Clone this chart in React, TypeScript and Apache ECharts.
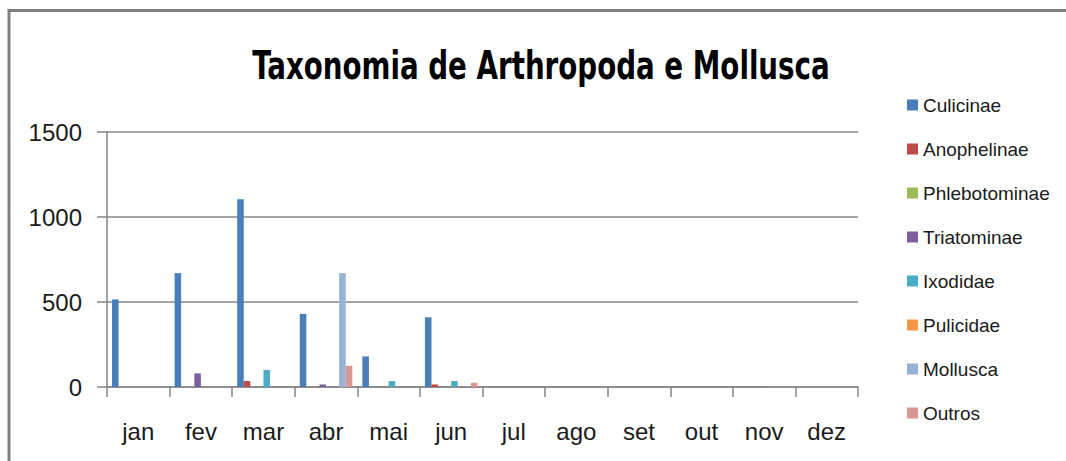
import React, { useEffect, useRef } from "react";
import * as echarts from "echarts";

const categories = ["jan", "fev", "mar", "abr", "mai", "jun", "jul", "ago", "set", "out", "nov", "dez"];
const seriesNames = ["Culicinae", "Anophelinae", "Phlebotominae", "Triatominae", "Ixodidae", "Pulicidae", "Mollusca", "Outros"];
const culicinae = [515, 670, 1105, 430, 180, 410, 0, 0, 0, 0, 0, 0];
const anophelinae = [0, 0, 35, 0, 0, 15, 0, 0, 0, 0, 0, 0];
const phlebotominae = [0, 0, 0, 0, 0, 0, 0, 0, 0, 0, 0, 0];
const triatominae = [0, 80, 0, 15, 0, 0, 0, 0, 0, 0, 0, 0];
const ixodidae = [0, 0, 100, 0, 35, 35, 0, 0, 0, 0, 0, 0];
const pulicidae = [0, 0, 0, 0, 0, 0, 0, 0, 0, 0, 0, 0];
const mollusca = [0, 0, 0, 670, 0, 0, 0, 0, 0, 0, 0, 0];
const outros = [0, 0, 0, 125, 0, 25, 0, 0, 0, 0, 0, 0];
const colors = ["#4A7EBB", "#BE4B48", "#9BBB59", "#7D5FA0", "#4AACC5", "#F79646", "#95B3D7", "#D99694"];
const yTicks = [0, 500, 1000, 1500];

const allData = [culicinae, anophelinae, phlebotominae, triatominae, ixodidae, pulicidae, mollusca, outros];

export default function App() {
  const ref = useRef<HTMLDivElement>(null);
  useEffect(() => {
    if (!ref.current) return;
    const chart = echarts.init(ref.current, null, { renderer: "svg" });
    const axisFont = "'Liberation Sans', Arial, sans-serif";
    chart.setOption({
      animation: false,
      backgroundColor: "#ffffff",
      color: colors,
      graphic: [
        {
          type: "rect",
          shape: { x: 9, y: 10.5, width: 1100, height: 500 },
          style: { fill: "none", stroke: "#808080", lineWidth: 3 },
          silent: true,
        },
        {
          type: "text",
          x: 541,
          y: 65,
          scaleX: 0.79,
          style: {
            text: "Taxonomia de Arthropoda e Mollusca",
            fontFamily: "'DejaVu Sans Condensed', 'DejaVu Sans', Arial, sans-serif",
            fontWeight: "bold",
            fontSize: 39,
            fill: "#000000",
            align: "center",
            verticalAlign: "middle",
          },
        },
      ],
      legend: {
        orient: "vertical",
        left: 902,
        top: 90,
        itemWidth: 11,
        itemHeight: 11,
        itemGap: 24,
        icon: "rect",
        data: seriesNames,
        textStyle: { fontFamily: axisFont, fontSize: 19, color: "#1a1a1a", lineHeight: 20 },
      },
      grid: { left: 107, right: 208, top: 132, bottom: 74 },
      xAxis: {
        type: "category",
        data: categories,
        boundaryGap: true,
        axisLine: { lineStyle: { color: "#868686", width: 1.5 } },
        axisTick: { show: true, alignWithLabel: false, interval: 0, length: 10, lineStyle: { color: "#868686", width: 1.5 } },
        axisLabel: { fontFamily: axisFont, fontSize: 24, color: "#1a1a1a", margin: 32 },
      },
      yAxis: {
        type: "value",
        min: yTicks[0],
        max: yTicks[yTicks.length - 1],
        interval: 500,
        axisLine: { show: true, lineStyle: { color: "#868686", width: 1.5 } },
        axisTick: { show: true, length: 10, lineStyle: { color: "#868686", width: 1.5 } },
        splitLine: { lineStyle: { color: "#868686", width: 1.5 } },
        axisLabel: { fontFamily: axisFont, fontSize: 24, color: "#1a1a1a", margin: 25, formatter: (v: number) => String(v) },
      },
      series: seriesNames.map((name, i) => ({
        name,
        type: "bar",
        data: allData[i],
        barGap: "0%",
        barCategoryGap: "16%",
        itemStyle: { color: colors[i] },
      })),
    });
    return () => chart.dispose();
  }, []);
  return <div ref={ref} style={{ position: "fixed", left: 0, top: 0, width: 1066, height: 461 }} />;
}
